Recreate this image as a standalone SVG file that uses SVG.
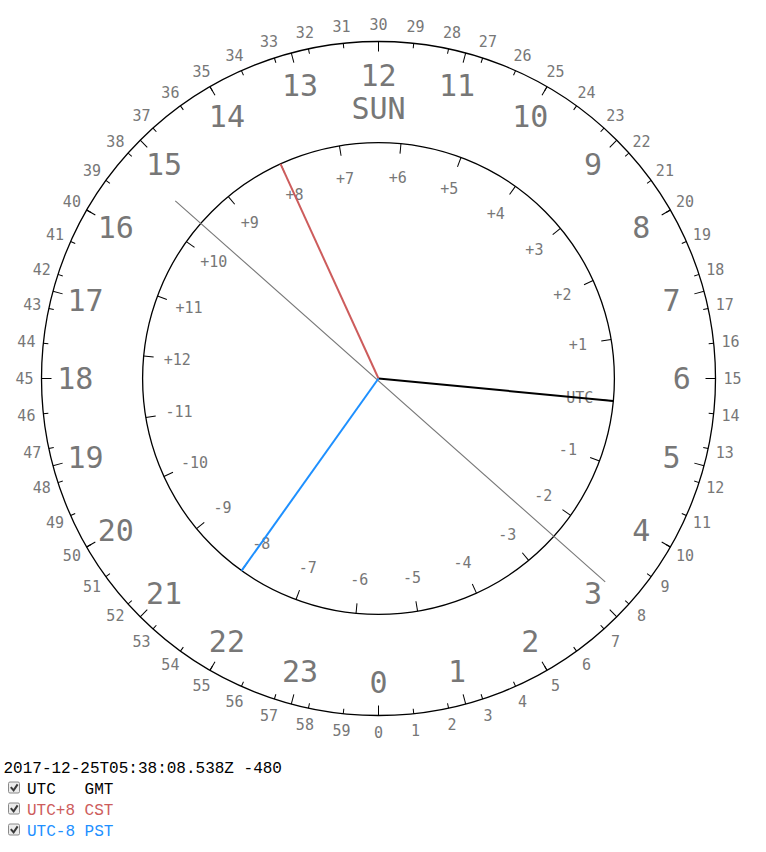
<svg xmlns="http://www.w3.org/2000/svg" width="766" height="852" viewBox="0 0 766 852">
<style>
.dial{fill:none;stroke:#000;stroke-width:1.3}
.tick{stroke:#000;stroke-width:1}
.hl{font-family:"DejaVu Sans Mono",monospace;font-size:30px;fill:#777;text-anchor:middle}
.ml{font-family:"DejaVu Sans Mono",monospace;font-size:15px;fill:#777;text-anchor:middle}
.il{font-family:"DejaVu Sans Mono",monospace;font-size:15px;fill:#777;text-anchor:middle}
.hand{stroke-width:2;fill:none}
.mono{font-family:"Liberation Mono","Courier New",monospace;font-size:16px}
.cb{fill:#ececec;stroke:#8a8a8a;stroke-width:1}
.ck{fill:none;stroke:#3a3a3a;stroke-width:2}
</style>
<defs>
<line id="mt" class="tick" x1="378.5" y1="715.5" x2="378.5" y2="710.5"/>
<line id="ht" class="tick" x1="378.5" y1="715.5" x2="378.5" y2="705.5"/>
<line id="it" class="tick" x1="378.5" y1="614.4" x2="378.5" y2="604.4"/>
</defs>
<g id="outer-dial">
<circle class="dial" cx="378.5" cy="378.5" r="337"/>
<g id="minute-ticks">
<use href="#mt" transform="rotate(0 378.5 378.5)"/><use href="#mt" transform="rotate(6 378.5 378.5)"/><use href="#mt" transform="rotate(12 378.5 378.5)"/><use href="#mt" transform="rotate(18 378.5 378.5)"/><use href="#mt" transform="rotate(24 378.5 378.5)"/><use href="#mt" transform="rotate(30 378.5 378.5)"/><use href="#mt" transform="rotate(36 378.5 378.5)"/><use href="#mt" transform="rotate(42 378.5 378.5)"/><use href="#mt" transform="rotate(48 378.5 378.5)"/><use href="#mt" transform="rotate(54 378.5 378.5)"/>
<use href="#mt" transform="rotate(60 378.5 378.5)"/><use href="#mt" transform="rotate(66 378.5 378.5)"/><use href="#mt" transform="rotate(72 378.5 378.5)"/><use href="#mt" transform="rotate(78 378.5 378.5)"/><use href="#mt" transform="rotate(84 378.5 378.5)"/><use href="#mt" transform="rotate(90 378.5 378.5)"/><use href="#mt" transform="rotate(96 378.5 378.5)"/><use href="#mt" transform="rotate(102 378.5 378.5)"/><use href="#mt" transform="rotate(108 378.5 378.5)"/><use href="#mt" transform="rotate(114 378.5 378.5)"/>
<use href="#mt" transform="rotate(120 378.5 378.5)"/><use href="#mt" transform="rotate(126 378.5 378.5)"/><use href="#mt" transform="rotate(132 378.5 378.5)"/><use href="#mt" transform="rotate(138 378.5 378.5)"/><use href="#mt" transform="rotate(144 378.5 378.5)"/><use href="#mt" transform="rotate(150 378.5 378.5)"/><use href="#mt" transform="rotate(156 378.5 378.5)"/><use href="#mt" transform="rotate(162 378.5 378.5)"/><use href="#mt" transform="rotate(168 378.5 378.5)"/><use href="#mt" transform="rotate(174 378.5 378.5)"/>
<use href="#mt" transform="rotate(180 378.5 378.5)"/><use href="#mt" transform="rotate(186 378.5 378.5)"/><use href="#mt" transform="rotate(192 378.5 378.5)"/><use href="#mt" transform="rotate(198 378.5 378.5)"/><use href="#mt" transform="rotate(204 378.5 378.5)"/><use href="#mt" transform="rotate(210 378.5 378.5)"/><use href="#mt" transform="rotate(216 378.5 378.5)"/><use href="#mt" transform="rotate(222 378.5 378.5)"/><use href="#mt" transform="rotate(228 378.5 378.5)"/><use href="#mt" transform="rotate(234 378.5 378.5)"/>
<use href="#mt" transform="rotate(240 378.5 378.5)"/><use href="#mt" transform="rotate(246 378.5 378.5)"/><use href="#mt" transform="rotate(252 378.5 378.5)"/><use href="#mt" transform="rotate(258 378.5 378.5)"/><use href="#mt" transform="rotate(264 378.5 378.5)"/><use href="#mt" transform="rotate(270 378.5 378.5)"/><use href="#mt" transform="rotate(276 378.5 378.5)"/><use href="#mt" transform="rotate(282 378.5 378.5)"/><use href="#mt" transform="rotate(288 378.5 378.5)"/><use href="#mt" transform="rotate(294 378.5 378.5)"/>
<use href="#mt" transform="rotate(300 378.5 378.5)"/><use href="#mt" transform="rotate(306 378.5 378.5)"/><use href="#mt" transform="rotate(312 378.5 378.5)"/><use href="#mt" transform="rotate(318 378.5 378.5)"/><use href="#mt" transform="rotate(324 378.5 378.5)"/><use href="#mt" transform="rotate(330 378.5 378.5)"/><use href="#mt" transform="rotate(336 378.5 378.5)"/><use href="#mt" transform="rotate(342 378.5 378.5)"/><use href="#mt" transform="rotate(348 378.5 378.5)"/><use href="#mt" transform="rotate(354 378.5 378.5)"/>
</g>
<g id="hour-ticks">
<use href="#ht" transform="rotate(0 378.5 378.5)"/><use href="#ht" transform="rotate(15 378.5 378.5)"/><use href="#ht" transform="rotate(30 378.5 378.5)"/><use href="#ht" transform="rotate(45 378.5 378.5)"/><use href="#ht" transform="rotate(60 378.5 378.5)"/><use href="#ht" transform="rotate(75 378.5 378.5)"/>
<use href="#ht" transform="rotate(90 378.5 378.5)"/><use href="#ht" transform="rotate(105 378.5 378.5)"/><use href="#ht" transform="rotate(120 378.5 378.5)"/><use href="#ht" transform="rotate(135 378.5 378.5)"/><use href="#ht" transform="rotate(150 378.5 378.5)"/><use href="#ht" transform="rotate(165 378.5 378.5)"/>
<use href="#ht" transform="rotate(180 378.5 378.5)"/><use href="#ht" transform="rotate(195 378.5 378.5)"/><use href="#ht" transform="rotate(210 378.5 378.5)"/><use href="#ht" transform="rotate(225 378.5 378.5)"/><use href="#ht" transform="rotate(240 378.5 378.5)"/><use href="#ht" transform="rotate(255 378.5 378.5)"/>
<use href="#ht" transform="rotate(270 378.5 378.5)"/><use href="#ht" transform="rotate(285 378.5 378.5)"/><use href="#ht" transform="rotate(300 378.5 378.5)"/><use href="#ht" transform="rotate(315 378.5 378.5)"/><use href="#ht" transform="rotate(330 378.5 378.5)"/><use href="#ht" transform="rotate(345 378.5 378.5)"/>
</g>
<g id="minute-labels" class="ml" transform="translate(0 5.5)">
<text x="378.5" y="732.5">0</text><text x="415.5" y="730.6">1</text><text x="452.1" y="724.8">2</text><text x="487.9" y="715.2">3</text><text x="522.5" y="701.9">4</text><text x="555.5" y="685.1">5</text><text x="586.6" y="664.9">6</text><text x="615.4" y="641.6">7</text><text x="641.6" y="615.4">8</text><text x="664.9" y="586.6">9</text>
<text x="685.1" y="555.5">10</text><text x="701.9" y="522.5">11</text><text x="715.2" y="487.9">12</text><text x="724.8" y="452.1">13</text><text x="730.6" y="415.5">14</text><text x="732.5" y="378.5">15</text><text x="730.6" y="341.5">16</text><text x="724.8" y="304.9">17</text><text x="715.2" y="269.1">18</text><text x="701.9" y="234.5">19</text>
<text x="685.1" y="201.5">20</text><text x="664.9" y="170.4">21</text><text x="641.6" y="141.6">22</text><text x="615.4" y="115.4">23</text><text x="586.6" y="92.1">24</text><text x="555.5" y="71.9">25</text><text x="522.5" y="55.1">26</text><text x="487.9" y="41.8">27</text><text x="452.1" y="32.2">28</text><text x="415.5" y="26.4">29</text>
<text x="378.5" y="24.5">30</text><text x="341.5" y="26.4">31</text><text x="304.9" y="32.2">32</text><text x="269.1" y="41.8">33</text><text x="234.5" y="55.1">34</text><text x="201.5" y="71.9">35</text><text x="170.4" y="92.1">36</text><text x="141.6" y="115.4">37</text><text x="115.4" y="141.6">38</text><text x="92.1" y="170.4">39</text>
<text x="71.9" y="201.5">40</text><text x="55.1" y="234.5">41</text><text x="41.8" y="269.1">42</text><text x="32.2" y="304.9">43</text><text x="26.4" y="341.5">44</text><text x="24.5" y="378.5">45</text><text x="26.4" y="415.5">46</text><text x="32.2" y="452.1">47</text><text x="41.8" y="487.9">48</text><text x="55.1" y="522.5">49</text>
<text x="71.9" y="555.5">50</text><text x="92.1" y="586.6">51</text><text x="115.4" y="615.4">52</text><text x="141.6" y="641.6">53</text><text x="170.4" y="664.9">54</text><text x="201.5" y="685.1">55</text><text x="234.5" y="701.9">56</text><text x="269.1" y="715.2">57</text><text x="304.9" y="724.8">58</text><text x="341.5" y="730.6">59</text>
</g>
<g id="hour-labels" class="hl" transform="translate(0 10.9)">
<text x="378.5" y="681.8">0</text><text x="457.0" y="671.5">1</text><text x="530.2" y="641.2">2</text><text x="593.0" y="593.0">3</text><text x="641.2" y="530.2">4</text><text x="671.5" y="457.0">5</text>
<text x="681.8" y="378.5">6</text><text x="671.5" y="300.0">7</text><text x="641.2" y="226.9">8</text><text x="593.0" y="164.0">9</text><text x="530.2" y="115.8">10</text><text x="457.0" y="85.5">11</text>
<text x="378.5" y="75.2">12</text><text x="300.0" y="85.5">13</text><text x="226.9" y="115.8">14</text><text x="164.0" y="164.0">15</text><text x="115.8" y="226.9">16</text><text x="85.5" y="300.0">17</text>
<text x="75.2" y="378.5">18</text><text x="85.5" y="457.0">19</text><text x="115.8" y="530.2">20</text><text x="164.0" y="593.0">21</text><text x="226.9" y="641.2">22</text><text x="300.0" y="671.5">23</text>
<text id="weekday" x="378.5" y="108">SUN</text>
</g>
</g>
<g id="inner-dial">
<circle class="dial" cx="378.5" cy="378.5" r="235.9"/>
<g id="inner-ticks" transform="rotate(5.4645 378.5 378.5)">
<use href="#it" transform="rotate(0 378.5 378.5)"/><use href="#it" transform="rotate(15 378.5 378.5)"/><use href="#it" transform="rotate(30 378.5 378.5)"/><use href="#it" transform="rotate(45 378.5 378.5)"/><use href="#it" transform="rotate(60 378.5 378.5)"/><use href="#it" transform="rotate(75 378.5 378.5)"/>
<use href="#it" transform="rotate(90 378.5 378.5)"/><use href="#it" transform="rotate(105 378.5 378.5)"/><use href="#it" transform="rotate(120 378.5 378.5)"/><use href="#it" transform="rotate(135 378.5 378.5)"/><use href="#it" transform="rotate(150 378.5 378.5)"/><use href="#it" transform="rotate(165 378.5 378.5)"/>
<use href="#it" transform="rotate(180 378.5 378.5)"/><use href="#it" transform="rotate(195 378.5 378.5)"/><use href="#it" transform="rotate(210 378.5 378.5)"/><use href="#it" transform="rotate(225 378.5 378.5)"/><use href="#it" transform="rotate(240 378.5 378.5)"/><use href="#it" transform="rotate(255 378.5 378.5)"/>
<use href="#it" transform="rotate(270 378.5 378.5)"/><use href="#it" transform="rotate(285 378.5 378.5)"/><use href="#it" transform="rotate(300 378.5 378.5)"/><use href="#it" transform="rotate(315 378.5 378.5)"/><use href="#it" transform="rotate(330 378.5 378.5)"/><use href="#it" transform="rotate(345 378.5 378.5)"/>
</g>
<g id="offset-labels" class="il" transform="translate(0 5.4)">
<text x="579.8" y="397.8">UTC</text>
<text x="577.9" y="345.0">+1</text><text x="562.4" y="294.5">+2</text><text x="534.4" y="249.8">+3</text><text x="495.8" y="213.8">+4</text><text x="449.2" y="189.1">+5</text><text x="397.8" y="177.2">+6</text>
<text x="345.0" y="179.1">+7</text><text x="294.5" y="194.6">+8</text><text x="249.8" y="222.6">+9</text><text x="213.8" y="261.2">+10</text><text x="189.1" y="307.8">+11</text><text x="177.2" y="359.2">+12</text>
<text x="567.9" y="449.2">-1</text><text x="543.2" y="495.8">-2</text><text x="507.2" y="534.4">-3</text><text x="462.5" y="562.4">-4</text><text x="412.0" y="577.9">-5</text><text x="359.2" y="579.8">-6</text>
<text x="307.8" y="567.9">-7</text><text x="261.2" y="543.2">-8</text><text x="222.6" y="507.2">-9</text><text x="194.6" y="462.5">-10</text><text x="179.1" y="412.0">-11</text>
</g>
</g>
<g id="hands">
<line id="minute-line" x1="175.3" y1="200.8" x2="605.2" y2="581.8" stroke="#777" stroke-width="1.1"/>
<line id="hand-utc" class="hand" x1="378.5" y1="378.5" x2="613.3" y2="401.0" stroke="#000"/>
<line id="hand-cst" class="hand" x1="378.5" y1="378.5" x2="280.5" y2="163.9" stroke="#cd5c5c"/>
<line id="hand-pst" class="hand" x1="378.5" y1="378.5" x2="241.6" y2="570.6" stroke="#1e90ff"/>
</g>
<g id="legend" class="mono">
<text x="3.5" y="772.5" fill="#000">2017-12-25T05:38:08.538Z -480</text>
<g id="row-utc">
<rect class="cb" x="8.5" y="782" width="11" height="11" rx="1.5"/>
<path class="ck" d="M10.8 787.2 L13.6 790.4 L17.6 784.4"/>
<text x="27" y="793.5" fill="#000">UTC<tspan x="84.6">GMT</tspan></text>
</g>
<g id="row-cst">
<rect class="cb" x="8.5" y="803" width="11" height="11" rx="1.5"/>
<path class="ck" d="M10.8 808.2 L13.6 811.4 L17.6 805.4"/>
<text x="27" y="814.5" fill="#cd5c5c">UTC+8<tspan x="84.6">CST</tspan></text>
</g>
<g id="row-pst">
<rect class="cb" x="8.5" y="824" width="11" height="11" rx="1.5"/>
<path class="ck" d="M10.8 829.2 L13.6 832.4 L17.6 826.4"/>
<text x="27" y="835.5" fill="#1e90ff">UTC-8<tspan x="84.6">PST</tspan></text>
</g>
</g>
</svg>
